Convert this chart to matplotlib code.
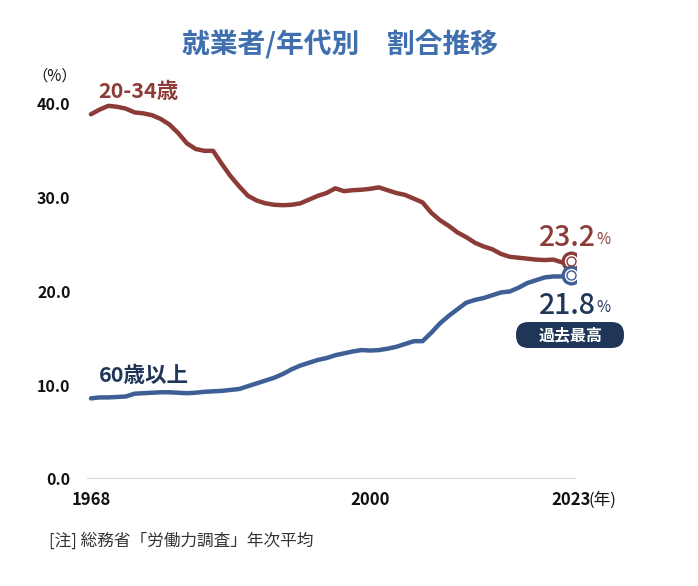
import matplotlib
matplotlib.use("Agg")
import matplotlib.pyplot as plt
from matplotlib.patches import FancyBboxPatch

plt.rcParams['font.family'] = ['Noto Sans CJK JP', 'DejaVu Sans']

years = list(range(1968, 2024))
young = [38.9, 39.4, 39.8, 39.7, 39.5, 39.1, 39.0, 38.8, 38.4, 37.8,
         36.9, 35.8, 35.2, 35.0, 35.0, 33.6, 32.3, 31.2, 30.2, 29.7,
         29.4, 29.25, 29.2, 29.25, 29.4, 29.8, 30.2, 30.5, 31.0, 30.7,
         30.8, 30.85, 30.95, 31.1, 30.8, 30.5, 30.3, 29.9, 29.5, 28.4,
         27.6, 27.0, 26.3, 25.8, 25.2, 24.8, 24.5, 24.0, 23.7, 23.6,
         23.5, 23.4, 23.35, 23.4, 23.1, 23.2]
senior = [8.6, 8.7, 8.7, 8.75, 8.8, 9.1, 9.15, 9.2, 9.25, 9.25,
          9.2, 9.15, 9.2, 9.3, 9.35, 9.4, 9.5, 9.6, 9.9, 10.2,
          10.5, 10.8, 11.2, 11.7, 12.1, 12.4, 12.7, 12.9, 13.2, 13.4,
          13.6, 13.75, 13.7, 13.75, 13.9, 14.1, 14.4, 14.7, 14.7, 15.6,
          16.6, 17.4, 18.1, 18.8, 19.1, 19.3, 19.6, 19.9, 20.0, 20.4,
          20.9, 21.2, 21.5, 21.6, 21.6, 21.8]
yticks = [0, 10, 20, 30, 40]
ytick_labels = ["0.0", "10.0", "20.0", "30.0", "40.0"]
xticks = [1968, 2000, 2023]
xtick_labels = ["1968", "2000", "2023"]

red = "#8c3b37"
blue_line = "#3e5f95"
navy = "#1f3659"
title_blue = "#3f6fae"

W, H = 698, 586
def fx(px):
    return px / W
def fy(py):
    return 1 - py / H

fig = plt.figure(figsize=(6.98, 5.86), dpi=100)
ax = fig.add_axes([0.124, 0.1826, 0.7014, 0.656])

ax.plot(years, young, color=red, lw=3.2, solid_capstyle='round', zorder=3)
ax.plot(years, senior, color=blue_line, lw=3.2, solid_capstyle='round', zorder=3)

for ser, col in ((young, red), (senior, blue_line)):
    ax.plot(years[-1], ser[-1], 'o', ms=12, mfc='white', mec=col, mew=2.4, zorder=4)
    ax.plot(years[-1], ser[-1], 'o', ms=6.5, mfc='white', mec=col, mew=1.0, zorder=5)

ax.set_xlim(1967.5, 2023.6)
ax.set_ylim(0, 41)
ax.set_yticks(yticks)
ax.set_yticklabels(ytick_labels)
ax.set_xticks(xticks)
ax.set_xticklabels(xtick_labels)
for s in ax.spines.values():
    s.set_visible(False)
ax.axhline(0, color="#d0d0d0", lw=1.2, zorder=1)
ax.tick_params(axis='y', length=0, pad=11.5, labelsize=11.5, labelcolor='#111111')
ax.tick_params(axis='x', length=0, pad=9, labelsize=12, labelcolor='#111111')
for lab in ax.get_yticklabels() + ax.get_xticklabels():
    lab.set_fontweight('bold')

fig.text(fx(340), fy(45), "就業者/年代別　割合推移", ha='center', va='center',
         fontsize=20, fontweight='bold', color=title_blue)
fig.text(fx(55), fy(76), "（%）", ha='center', va='center', fontsize=11, color='#111111')
fig.text(fx(589), fy(500), "(年)", ha='left', va='center', fontsize=12, color='#111111')

ax.text(1968.9, 40.2, "20-34歳", ha='left', va='bottom', fontsize=15.5,
        fontweight='bold', color=red)
ax.text(1968.9, 9.9, "60歳以上", ha='left', va='bottom', fontsize=15.5,
        fontweight='bold', color=navy)

fig.text(fx(539), fy(237), "23.2", ha='left', va='center', fontsize=20.5,
         fontweight='medium', color=red)
fig.text(fx(596), fy(240), "%", ha='left', va='center', fontsize=11, color=red)
fig.text(fx(539), fy(305), "21.8", ha='left', va='center', fontsize=20.5,
         fontweight='medium', color=navy)
fig.text(fx(596), fy(308), "%", ha='left', va='center', fontsize=11, color=navy)

badge = FancyBboxPatch((fx(516), fy(348)), 108 / W, 26 / H,
                       boxstyle="round,pad=0,rounding_size=0.018",
                       transform=fig.transFigure, facecolor=navy, edgecolor='none',
                       mutation_aspect=W / H)
fig.patches.append(badge)
fig.text(fx(571), fy(335), "過去最高", ha='center', va='center',
         fontsize=11.5, fontweight='bold', color='white')

fig.text(fx(49), fy(541), "[注] 総務省「労働力調査」年次平均", ha='left', va='center',
         fontsize=12, color='#333333')

fig.savefig("out.png", dpi=100)
